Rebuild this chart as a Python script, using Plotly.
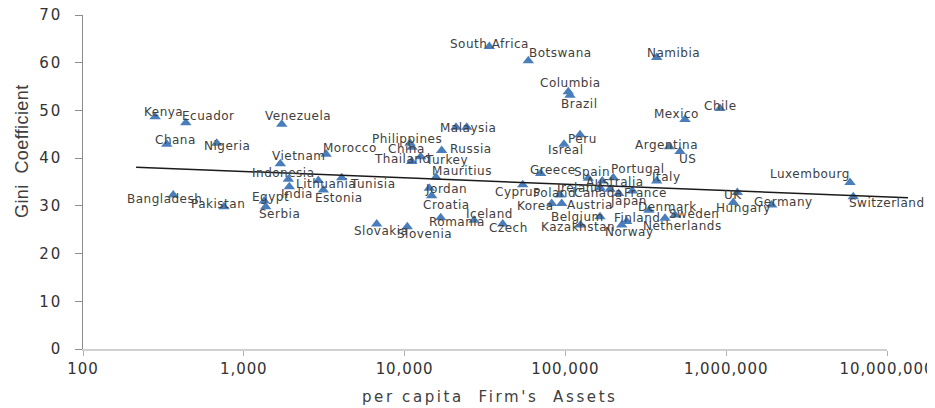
import numpy as np
import plotly.graph_objects as go

# ---------------- data ----------------
countries = [
    "Kenya", "Ecuador", "Venezuela", "Chana", "Nigeria", "Vietnam", "Morocco",
    "Philippines", "China", "Thailand", "Turkey", "Russia", "Malaysia", "",
    "Mauritius", "Jordan", "Croatia", "Romania", "Iceland", "Slovakia", "Slovenia",
    "Indonesia", "Lithuania", "Tunisia", "India", "Estonia", "Bangladesh",
    "Pakistan", "Egypt", "Serbia", "Czech", "Cyprus", "Poland", "Greece", "Korea",
    "Austria", "Spain", "Australia", "Ireland", "Portugal", "Canada", "Japan",
    "France", "Italy", "Belgium", "Kazakhstan", "Norway", "Finland", "Denmark",
    "Netherlands", "Sweden", "Peru", "Isreal", "Argentina", "US", "Mexico",
    "South Africa", "Botswana", "Namibia", "Columbia", "Brazil", "Chile",
    "Luxembourg", "Switzerland", "UK", "Hungary", "Germany",
]
assets = [
    281, 436, 1722, 332, 679, 1687, 3251,
    10810, 11120, 11070, 12590, 17000, 20880, 24340,
    15680, 14250, 14740, 16770, 27020, 6706, 10390,
    1892, 2906, 4063, 1919, 3122, 364,
    753, 1341, 1369, 40750, 54270, 92560, 70220, 82180,
    94840, 138800, 169600, 164100, 198600, 189400, 214500,
    260800, 369800, 164100, 124500, 223900, 240500, 331100,
    416300, 480300, 123300, 98000, 442700, 515900, 554200,
    33630, 58800, 369800, 104200, 106800, 915000,
    5888000, 6170000, 1173000, 1107000, 1919000,
]
gini = [
    48.7, 47.4, 47.1, 42.9, 43.1, 38.8, 40.8,
    43.1, 42.3, 39.3, 40.3, 41.6, 46.5, 46.5,
    36.0, 33.7, 32.1, 27.5, 27.0, 26.2, 25.6,
    35.6, 35.3, 35.9, 34.0, 33.3, 32.3,
    29.8, 31.0, 29.8, 26.2, 34.4, 32.3, 36.8, 30.5,
    30.5, 35.8, 35.2, 33.8, 35.9, 33.5, 32.6,
    33.1, 35.2, 27.7, 26.0, 26.0, 26.7, 29.1,
    27.4, 28.1, 44.9, 42.9, 42.4, 41.4, 48.1,
    63.4, 60.4, 61.1, 53.9, 53.2, 50.4,
    34.9, 31.9, 32.8, 30.7, 30.2,
]
trend_assets = [214, 13500000]
trend_gini = [38.1, 31.7]

x_tick_vals = [100, 1000, 10000, 100000, 1000000, 10000000]
x_tick_labels = ["100", "1,000", "10,000", "100,000", "1,000,000", "10,000,000"]
y_tick_vals = [0, 10, 20, 30, 40, 50, 60, 70]
y_tick_labels = ["0", "10", "20", "30", "40", "50", "60", "70"]

x_title = "per capita\u00a0\u00a0Firm's\u00a0\u00a0Assets"
y_title = "Gini\u00a0\u00a0Coefficient"

# ---------------- label placement (style, pixel offsets) ----------------
label_dx = [
    8, 23, 16, 9, 10, 19, 24,
    -3, -6, -9, 26, 29, 12, 0,
    26, 17, 15, 16, 15, 4, 17,
    -5, 8, 31, 8, 16, -9,
    -6, 6, 14, 6, -5, -6, 12, -16,
    28, 4, 13, -20, 25, -12, 10,
    13, 10, -22, -3, 8, 10, 18,
    17, 19, 2, 2, -3, 8, -8,
    0, 32, 17, 2, 10, 0,
    -40, 34, -4, 10, 12,
]
label_dy = [
    -5, -7, -8, -4, 3, -8, -6,
    -4, 2, -2, 3, -2, 1, 0,
    -6, 1, 9, 4, -6, 7, 7,
    -6, 3, 6, 7, 8, 4,
    -3, -4, 7, 4, 7, -2, -3, 3,
    2, -6, 1, 0, -9, 4, 8,
    2, -4, 0, 2, 7, -4, -3,
    8, -1, 4, 6, -2, 8, -5,
    -2, -8, -4, -9, 9, -3,
    -8, 6, 2, 5, -3,
]


def spaced(text, px):
    return f'<span style="letter-spacing:{px}px">{text}</span>'


# ---------------- geometry (page body has an 8px margin) ----------------
OFF = 8
W, H = 935 - OFF, 408 - OFF
L, AXR, TRR, T, BOT = 83 - OFF, 887 - OFF, 910 - OFF, 15 - OFF, 349 - OFF
dom_end = (AXR - L) / (TRR - L)
x_lo, x_hi = np.log10(x_tick_vals[0]), np.log10(x_tick_vals[-1])
x2_hi = x_lo + (x_hi - x_lo) / dom_end
plot_w, plot_h = TRR - L, BOT - T

marker_color = "#4a7ebb"
text_color = "#404040"

fig = go.Figure()
fig.add_trace(go.Scatter(
    x=trend_assets, y=trend_gini, mode="lines",
    line=dict(color="#1a1a1a", width=1.5),
    xaxis="x2", yaxis="y", hoverinfo="skip", showlegend=False,
))
fig.add_trace(go.Scatter(
    x=assets, y=gini, mode="markers",
    marker=dict(symbol="triangle-up", size=10, color=marker_color, line=dict(width=0)),
    xaxis="x", yaxis="y", hoverinfo="text", text=countries, showlegend=False,
))

annotations = []
for name, xv, yv, dx, dy in zip(countries, assets, gini, label_dx, label_dy):
    if not name:
        continue
    annotations.append(dict(
        x=np.log10(xv), y=yv, xref="x", yref="y", text=spaced(name, 0.5), showarrow=False,
        xanchor="center", yanchor="middle", xshift=dx, yshift=-dy,
        font=dict(family="DejaVu Sans", size=12, color=text_color),
    ))
annotations.append(dict(
    x=(22 - OFF - L) / plot_w, y=(BOT - (151 - OFF)) / plot_h, xref="paper", yref="paper",
    text=spaced(y_title, 0.4), showarrow=False, textangle=-90, xanchor="center", yanchor="middle",
    font=dict(family="Liberation Sans", size=18, color=text_color),
))
annotations.append(dict(
    x=(490 - OFF - L) / plot_w, y=(BOT - (397 - OFF)) / plot_h, xref="paper", yref="paper",
    text=spaced(x_title, 2.6), showarrow=False, xanchor="center", yanchor="middle",
    font=dict(family="DejaVu Sans", size=15, color=text_color),
))

fig.update_layout(
    width=W, height=H,
    margin=dict(l=L, r=W - TRR, t=T, b=H - BOT, pad=0, autoexpand=False),
    paper_bgcolor="white", plot_bgcolor="rgba(0,0,0,0)",
    xaxis=dict(
        type="log", range=[x_lo, x_hi], domain=[0, dom_end], anchor="y",
        tickvals=x_tick_vals, ticktext=[spaced(t, 0.9) for t in x_tick_labels],
        automargin=False, ticklabeloverflow="allow",
        showgrid=False, zeroline=False, showline=True, linecolor="#d0d0d0", linewidth=2,
        ticks="outside", ticklen=5, tickcolor="#b0b0b0", tickwidth=1,
        ticklabelstandoff=0,
        tickfont=dict(family="DejaVu Sans", size=15, color="#333333"),
    ),
    xaxis2=dict(
        type="log", range=[x_lo, x2_hi], domain=[0, 1], anchor="y",
        visible=False, showgrid=False, zeroline=False, automargin=False,
    ),
    yaxis=dict(
        range=[0, 70], domain=[0, 1], anchor="x", automargin=False,
        tickvals=y_tick_vals, ticktext=[spaced(t, 1.8) for t in y_tick_labels],
        ticklabeloverflow="allow",
        showgrid=False, zeroline=False, showline=True, linecolor="#8c8c8c", linewidth=1,
        ticks="outside", ticklen=7, tickcolor="#8c8c8c", tickwidth=1,
        ticklabelstandoff=10,
        tickfont=dict(family="DejaVu Sans", size=15, color="#333333"),
    ),
    annotations=annotations,
)

fig.write_html("out.html")
